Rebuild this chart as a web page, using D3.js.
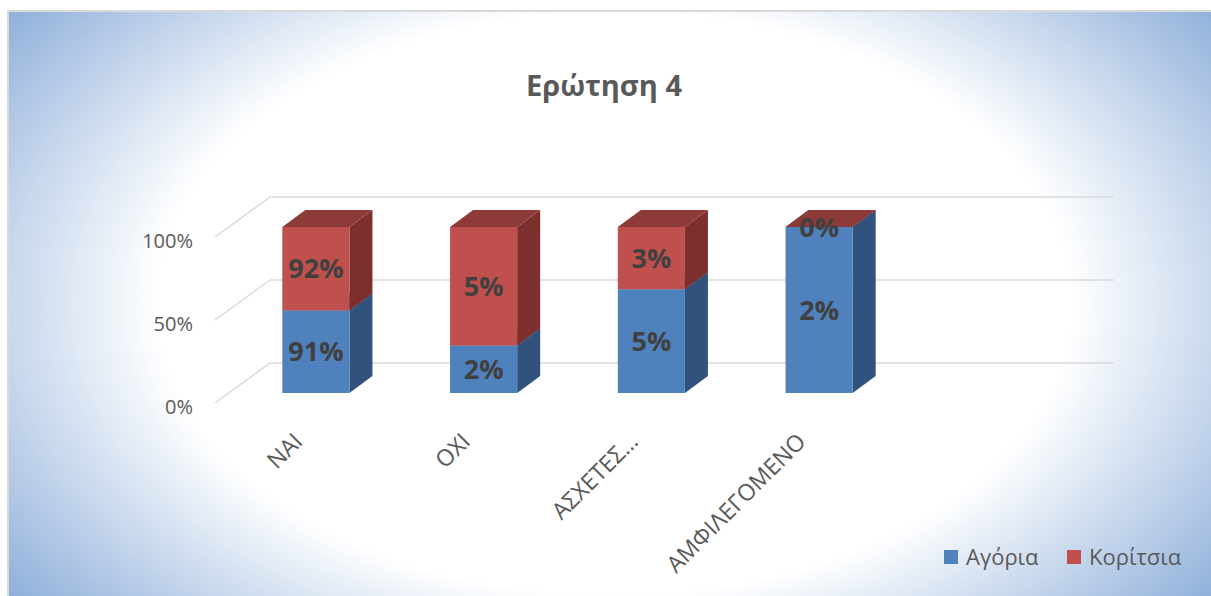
<!DOCTYPE html>
<html>
<head>
<meta charset="utf-8">
<script src="https://cdn.jsdelivr.net/npm/d3@7"></script>
<style>
  body { margin: 0; background: #fff; }
  text { font-family: "Open Sans", "DejaVu Sans", sans-serif; }
</style>
</head>
<body>
<div id="viz"></div>
<script>
var categories = ["ΝΑΙ", "ΟΧΙ", "ΑΣΧΕΤΕΣ…", "ΑΜΦΙΛΕΓΟΜΕΝΟ"];
var boys = [0.91, 0.02, 0.05, 0.02];
var girls = [0.92, 0.05, 0.03, 0.00];
var seriesNames = ["Αγόρια", "Κορίτσια"];
var yTicks = [0, 0.5, 1];

var width = 1211,
    height = 596;

var svg = d3.select('#viz').append('svg')
  .attr("width", width)
  .attr("height", height)

// background gradient like the office chart area
var defs = svg.append('defs')
var grad = defs.append('radialGradient')
  .attr('id', 'bg')
  .attr('gradientUnits', 'userSpaceOnUse')
  .attr('cx', 614).attr('cy', 303).attr('r', 760)
  .attr('gradientTransform', 'translate(614,303) scale(1,0.637) translate(-614,-303)')
grad.append('stop').attr('offset', 0).attr('stop-color', '#ffffff')
grad.append('stop').attr('offset', 0.6).attr('stop-color', '#ffffff')
grad.append('stop').attr('offset', 1).attr('stop-color', '#8fafda')

svg.append('rect')
  .attr('x', 8).attr('y', 11)
  .attr('width', 1220).attr('height', 600)
  .attr('fill', 'url(#bg)')
  .attr('stroke', '#d9d9d9')
  .attr('stroke-width', 2)

var data = categories.map(function(c, i){
  return {cat: c, boys: boys[i], girls: girls[i]};
})

var stack = d3.stack()
  .keys(['boys', 'girls'])
  .offset(d3.stackOffsetExpand)
var series = stack(data);

var x = d3.scaleBand()
  .domain(categories)
  .range([232, 903])
  .paddingInner(0.6)
  .paddingOuter(0.3)

var y = d3.scaleLinear()
  .domain([0, 1])
  .range([393, 227])

// depth of the wall and of the bars
var wallDx = 55, wallDy = 40;
var barDx = 23, barDy = 17;

var wallFront = x.range()[0] - 17;
var wallBack = wallFront + wallDx;
var wallRight = x.range()[1] + x.step() + 43;

var grid = svg.append('g')
grid.selectAll('.back')
  .data(yTicks)
  .enter()
  .append('line')
  .attr('x1', wallBack)
  .attr('x2', wallRight)
  .attr('y1', function(d){ return y(d) - 30 })
  .attr('y2', function(d){ return y(d) - 30 })
  .attr('stroke', '#d9d9d9')
  .attr('stroke-width', 1.5)
grid.selectAll('.side')
  .data(yTicks)
  .enter()
  .append('line')
  .attr('x1', wallFront)
  .attr('x2', wallBack)
  .attr('y1', function(d){ return y(d) - 30 + wallDy })
  .attr('y2', function(d){ return y(d) - 30 })
  .attr('stroke', '#d9d9d9')
  .attr('stroke-width', 1.5)

svg.append('g').selectAll('text')
  .data(yTicks)
  .enter()
  .append('text')
  .attr('x', 193)
  .attr('y', function(d){ return y(d) + 14 })
  .attr('dy', '0.35em')
  .attr('text-anchor', 'end')
  .attr('font-size', 20)
  .attr('fill', '#595959')
  .text(d3.format('.0%'))

var colors = {
  boys: {front: '#4f81bd', side: '#31527c', top: '#3e6797'},
  girls: {front: '#c0504d', side: '#7d2f2e', top: '#8e3a38'}
};

var bars = svg.append('g')
series.forEach(function(s){
  var c = colors[s.key];
  s.forEach(function(d, i){
    var x0 = x(categories[i]), x1 = x0 + x.bandwidth();
    var yb = y(d[0]), yt = y(d[1]);
    var g = bars.append('g')
    // side face
    g.append('path')
      .attr('d', 'M' + x1 + ',' + yb + 'L' + (x1 + barDx) + ',' + (yb - barDy) +
        'L' + (x1 + barDx) + ',' + (yt - barDy) + 'L' + x1 + ',' + yt + 'Z')
      .attr('fill', c.side)
    // top face
    g.append('path')
      .attr('d', 'M' + x0 + ',' + yt + 'L' + x1 + ',' + yt +
        'L' + (x1 + barDx) + ',' + (yt - barDy) + 'L' + (x0 + barDx) + ',' + (yt - barDy) + 'Z')
      .attr('fill', c.top)
    // front face
    g.append('rect')
      .attr('x', x0)
      .attr('y', yt)
      .attr('width', x.bandwidth())
      .attr('height', yb - yt)
      .attr('fill', c.front)
  })
})

// data labels
var labels = svg.append('g')
series.forEach(function(s){
  s.forEach(function(d, i){
    labels.append('text')
      .attr('x', x(categories[i]) + x.bandwidth() / 2)
      .attr('y', (y(d[0]) + y(d[1])) / 2)
      .attr('dy', '0.36em')
      .attr('text-anchor', 'middle')
      .attr('font-size', 27)
      .attr('font-weight', 'bold')
      .attr('fill', '#404040')
      .text(d3.format('.0%')(d.data[s.key]))
  })
})

// category labels, rotated, ending under each bar
svg.append('g').selectAll('text')
  .data(categories)
  .enter()
  .append('text')
  .attr('transform', function(d){
    return 'translate(' + (x(d) + x.bandwidth() / 2 - 12) + ',443) rotate(-45)'
  })
  .attr('text-anchor', 'end')
  .attr('font-size', 23)
  .attr('fill', '#595959')
  .text(function(d){ return d })

// title
svg.append('text')
  .attr('x', 604)
  .attr('y', 96)
  .attr('text-anchor', 'middle')
  .attr('font-size', 29)
  .attr('font-weight', 'bold')
  .attr('fill', '#595959')
  .text('Ερώτηση 4')

// legend
var legend = svg.append('g')
var legX = [944, 1067];
seriesNames.forEach(function(n, i){
  var key = i == 0 ? 'boys' : 'girls';
  legend.append('rect')
    .attr('x', legX[i]).attr('y', 550)
    .attr('width', 14).attr('height', 14)
    .attr('fill', colors[key].front)
  legend.append('text')
    .attr('x', legX[i] + 22)
    .attr('y', 557)
    .attr('dy', '0.35em')
    .attr('font-size', 22)
    .attr('fill', '#595959')
    .text(n)
})
</script>
</body>
</html>
